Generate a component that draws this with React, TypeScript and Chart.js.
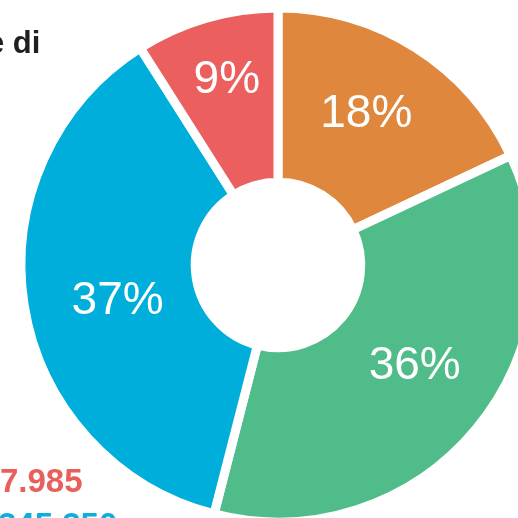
import React, { useEffect, useRef } from "react";
import { Chart, registerables } from "chart.js";

Chart.register(...registerables);

const CATEGORIES = ["Arancio", "Verde", "Blu", "Rosso"];
const PERCENTAGES = [18, 36, 37, 9];
const COLORS = ["#DF873D", "#4FBC89", "#00AEDB", "#EB5F5E"];
const LABEL_RADIUS = [176, 169, 164, 194];
const LABEL_ANGLE_SHIFT = [-2.3, -3.6, -3, 0.9];

const labelPlugin = {
  id: "sliceLabels",
  afterDatasetsDraw(chart: any) {
    const meta = chart.getDatasetMeta(0);
    const ctx = chart.ctx;
    ctx.save();
    ctx.fillStyle = "#ffffff";
    ctx.font = "46px 'Liberation Sans', Arial, sans-serif";
    ctx.textAlign = "center";
    ctx.textBaseline = "middle";
    meta.data.forEach((arc: any, i: number) => {
      const p = arc.getProps(["x", "y", "startAngle", "endAngle"], true);
      const mid = (p.startAngle + p.endAngle) / 2 + (LABEL_ANGLE_SHIFT[i] * Math.PI) / 180;
      const r = LABEL_RADIUS[i];
      const v = chart.data.datasets[0].data[i];
      ctx.fillText(`${v}%`, p.x + Math.cos(mid) * r, p.y + Math.sin(mid) * r + 2);
    });
    ctx.restore();
  },
};

export default function App() {
  const ref = useRef<HTMLCanvasElement | null>(null);
  useEffect(() => {
    if (!ref.current) return;
    const chart = new Chart(ref.current, {
      type: "doughnut",
      data: {
        labels: CATEGORIES,
        datasets: [
          {
            data: PERCENTAGES,
            backgroundColor: COLORS,
            borderColor: "#ffffff",
            borderWidth: 9,
            borderJoinStyle: "miter",
            radius: 257,
          } as any,
        ],
      },
      options: {
        animation: false,
        responsive: false,
        cutout: "32.2%",
        layout: { padding: 0 },
        plugins: {
          legend: { display: false },
          tooltip: { enabled: false },
        },
      } as any,
      plugins: [labelPlugin],
    });
    return () => chart.destroy();
  }, []);

  const base: React.CSSProperties = {
    position: "absolute",
    fontFamily: "'Liberation Sans', Arial, sans-serif",
    fontWeight: "bold",
    lineHeight: 1,
    whiteSpace: "nowrap",
    margin: 0,
  };

  return (
    <div
      style={{
        position: "absolute",
        left: 0,
        top: 0,
        width: 518,
        height: 518,
        overflow: "hidden",
        background: "#ffffff",
      }}
    >
      <canvas
        ref={ref}
        width={560}
        height={560}
        style={{ position: "absolute", left: -2, top: -15, width: 560, height: 560 }}
      />
      <div style={{ ...base, left: -13, top: 27, fontSize: 31, color: "#1f1f1f" }}>e di</div>
      <div style={{ ...base, left: 0, top: 464, fontSize: 33, color: "#E8605C" }}>7.985</div>
      <div style={{ ...base, left: -2, top: 508, fontSize: 33, color: "#0BAEDC" }}>345.350</div>
    </div>
  );
}
